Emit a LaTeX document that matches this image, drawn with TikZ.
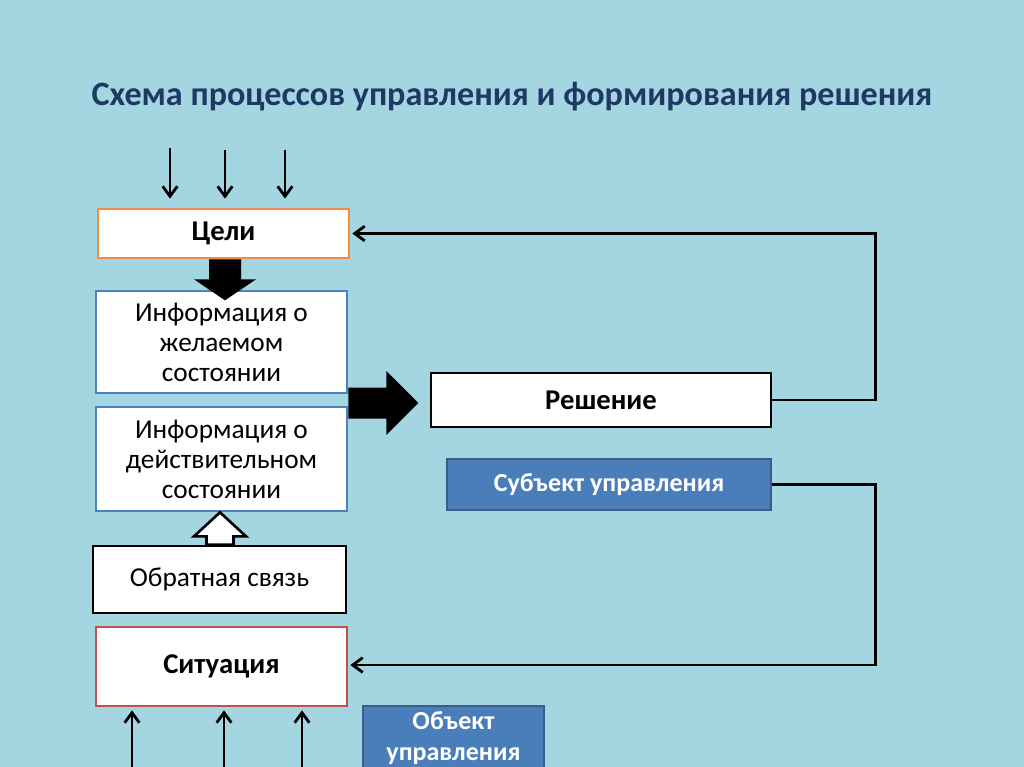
\documentclass[tikz,border=0pt]{standalone}
\usepackage{fontspec}
\setmainfont{Carlito}
\usetikzlibrary{calc,arrows.meta}
\definecolor{bgc}{RGB}{163,214,224}
\definecolor{titlec}{RGB}{31,56,100}
\definecolor{orangeb}{RGB}{240,140,70}
\definecolor{blueb}{RGB}{79,129,189}
\definecolor{redb}{RGB}{192,80,77}
\definecolor{bluefill}{RGB}{74,126,187}
\definecolor{bluedark}{RGB}{56,93,138}
\tikzset{
  box/.style={draw, fill=white, line width=2pt, align=center, inner sep=0pt, font=\fontsize{20.5}{22.5}\selectfont},
  bbox/.style={box, font=\fontsize{21.5}{22.5}\selectfont\bfseries},
  bluebox/.style={draw=bluedark, fill=bluefill, line width=2pt, text=white, align=center, inner sep=0pt, font=\fontsize{19.5}{23}\selectfont\bfseries},
  thin arrow/.style={line width=2.1pt, -{Straight Barb[length=7.5pt,width=11pt]}},
  link/.style={line width=2.1pt, -{Straight Barb[length=7.5pt,width=11pt]}}
}
\begin{document}
\begin{tikzpicture}[x=0.75pt,y=-0.75pt]
\useasboundingbox (0,0) rectangle (1024,767);
\fill[bgc] (0,0) rectangle (1024,767);
\node[text=titlec, font=\fontsize{25.6}{30}\selectfont\bfseries] (title) at (512,97) {Схема процессов управления и формирования решения};

\node[bbox, draw=orangeb, minimum width=188.25pt, minimum height=36.75pt] (goals) at (223.5,233.5) {Цели};
\node[box, draw=blueb, minimum width=188.25pt, minimum height=76.5pt] (desired) at (221.5,342) {Информация о\\желаемом\\состоянии};
\node[box, draw=blueb, minimum width=188.25pt, minimum height=78pt] (actual) at (221.5,459) {Информация о\\действительном\\состоянии};
\node[box, draw=black, minimum width=189.75pt, minimum height=50.25pt] (feedback) at (219.5,579.5) {Обратная связь};
\node[bbox, draw=redb, minimum width=188.25pt, minimum height=59.25pt] (situation) at (221.5,666.5) {Ситуация};
\node[bbox, draw=black, minimum width=255pt, minimum height=40.5pt] (decision) at (601,400) {Решение};
\node[bluebox, minimum width=243pt, minimum height=38.25pt] (subject) at (609,484.5) {Субъект управления};
\node[bluebox, minimum width=135.75pt, minimum height=48pt] (object) at (453.5,738) {Объект\\управления};

% incoming arrows to goals
\coordinate (g1) at (170,148);
\coordinate (g2) at (225,150);
\coordinate (g3) at (285,150);
\draw[thin arrow] (g1) -- ($(g1 |- goals.north)+(0,-9)$);
\draw[thin arrow] (g2) -- ($(g2 |- goals.north)+(0,-9)$);
\draw[thin arrow] (g3) -- ($(g3 |- goals.north)+(0,-9)$);

% incoming arrows to situation
\coordinate (s1) at (132,767);
\coordinate (s2) at (224,767);
\coordinate (s3) at (302,767);
\draw[thin arrow] (s1) -- ($(s1 |- situation.south)+(0,3)$);
\draw[thin arrow] (s2) -- ($(s2 |- situation.south)+(0,3)$);
\draw[thin arrow] (s3) -- ($(s3 |- situation.south)+(0,3)$);

% block arrow goals -> desired
\coordinate (gd) at ($(goals.south)+(1.5,0)$);
\fill[black] ($(gd)+(-16,0)$) -- ($(gd)+(16,0)$) -- ($(gd)+(16,20)$) -- ($(gd)+(31,20)$)
  -- ($(gd)+(0,41)$) -- ($(gd)+(-31,20)$) -- ($(gd)+(-16,20)$) -- cycle;

% block arrow info -> decision
\coordinate (ir) at ($(desired.south east)!0.5!(actual.north east)+(0,3)$);
\fill[black] ($(ir)+(0,-15.5)$) -- ($(ir)+(38,-15.5)$) -- ($(ir)+(38,-32)$) -- ($(ir)+(70,0)$)
  -- ($(ir)+(38,32)$) -- ($(ir)+(38,15.5)$) -- ($(ir)+(0,15.5)$) -- cycle;

% hollow arrow feedback -> actual
\coordinate (fa) at ($(actual.south)+(-1.5,0)$);
\filldraw[fill=white, draw=black, line width=2pt, line join=miter]
  (fa) -- ($(fa)+(26,24)$) -- ($(fa)+(13.5,24)$) -- ($(fa |- feedback.north)+(13.5,0)$)
  -- ($(fa |- feedback.north)+(-13.5,0)$) -- ($(fa)+(-13.5,24)$) -- ($(fa)+(-26,24)$) -- cycle;

% feedback loops
\coordinate (r1) at ($(decision.east)+(103,0)$);
\draw[link] (decision.east) -- (r1) |- ($(goals.east)+(2,0)$);
\coordinate (r2) at ($(subject.east)+(103,0)$);
\draw[link] (subject.east) -- (r2) |- ($(situation.east)+(2,-1.5)$);
\end{tikzpicture}
\end{document}
